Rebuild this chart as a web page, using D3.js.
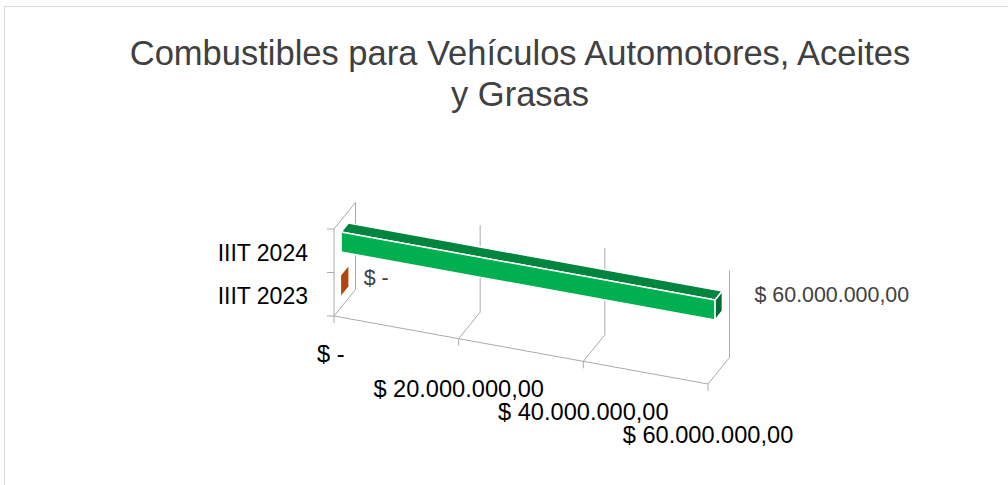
<!DOCTYPE html>
<meta charset="utf-8">
<head>
  <title>Combustibles para Vehículos Automotores, Aceites y Grasas</title>
</head>

<style>
body {
  margin: 0;
  background: #fff;
  font-family: "Liberation Sans", Arial, sans-serif;
}
</style>

<body>
<script src="https://cdn.jsdelivr.net/npm/d3@7"></script>

<script>

// chart data
var titleLines = ["Combustibles para Vehículos Automotores, Aceites", "y Grasas"];
var categories = ["IIIT 2023", "IIIT 2024"];
var values = [0, 60000000];
var tickValues = [0, 20000000, 40000000, 60000000];

var w = 1008, h = 485;

// colours for each series: front, top, end face
var faceColors = [
  {front: "#C55A11", top: "#9E480E", end: "#B0480C"},
  {front: "#00B050", top: "#00853E", end: "#006B33"}
];

var svg = d3.select("body")
  .append("svg")
  .attr("width", w)
  .attr("height", h);

// chart border (runs past the right / bottom of the window)
svg.append("rect")
  .attr("x", 4.5)
  .attr("y", 6.5)
  .attr("width", 1040)
  .attr("height", 500)
  .attr("fill", "#fff")
  .attr("stroke", "#D9D9D9");

// title
svg.append("g")
  .selectAll("text")
  .data(titleLines)
  .enter()
  .append("text")
  .attr("x", 520)
  .attr("y", function(d, i) { return 65 + i * 41; })
  .attr("text-anchor", "middle")
  .attr("font-size", 34.5)
  .attr("fill", "#404040")
  .text(function(d) { return d; });

// 3D box: value axis runs down to the right, depth goes up-right
var origin = [334, 316],
    H = 87,            // height of the category axis
    DX = 21.5, DY = 26.5, // depth vector
    slope = 68 / 374;

var x = d3.scaleLinear()
  .domain([0, d3.max(tickValues)])
  .range([0, 374]);

// bands on the vertical category axis (0 = floor, 1 = top)
var band = d3.scaleBand()
  .domain(categories)
  .range([0, 1])
  .paddingInner(0.54)
  .paddingOuter(0.27);

var d0 = 0.33, d1 = 0.67; // bar depth

function proj(v, c, d) {
  var px = x(v);
  return [origin[0] + px + d * DX, origin[1] + px * slope - c * H - d * DY];
}

var line = d3.line();
var gridColor = "#AAAAAA";

var grid = svg.append("g")
  .attr("fill", "none")
  .attr("stroke", gridColor)
  .attr("stroke-width", 1);

// gridlines on floor and back wall
grid.selectAll(".grid")
  .data(tickValues)
  .enter()
  .append("path")
  .attr("class", "grid")
  .attr("d", function(v) { return line([proj(v, 0, 0), proj(v, 0, 1), proj(v, 1, 1)]); });

// value axis line + ticks
grid.append("path")
  .attr("d", line([proj(0, 0, 0), proj(d3.max(tickValues), 0, 0)]));
grid.selectAll(".vtick")
  .data(tickValues)
  .enter()
  .append("path")
  .attr("class", "vtick")
  .attr("d", function(v) { var p = proj(v, 0, 0); return line([p, [p[0], p[1] + 7]]); });

// category axis (side wall front edge + top edge)
grid.append("path")
  .attr("d", line([proj(0, 0, 0), proj(0, 1, 0), proj(0, 1, 1)]));
grid.selectAll(".ctick")
  .data([0, 0.5, 1])
  .enter()
  .append("path")
  .attr("class", "ctick")
  .attr("d", function(c) { var p = proj(0, c, 0); return line([[p[0] - 7, p[1]], p]); });

// bars
var bars = svg.append("g");

categories.forEach(function(cat, i) {
  var v = values[i],
      c0 = band(cat),
      c1 = c0 + band.bandwidth(),
      col = faceColors[i];
  var faces = [];
  if (v > 0) {
    faces.push({pts: [proj(0, c1, d0), proj(v, c1, d0), proj(v, c1, d1), proj(0, c1, d1)], fill: col.top});
    faces.push({pts: [proj(0, c0, d0), proj(v, c0, d0), proj(v, c1, d0), proj(0, c1, d0)], fill: col.front});
  }
  faces.push({pts: [proj(v, c0, d0), proj(v, c0, d1), proj(v, c1, d1), proj(v, c1, d0)], fill: col.end});

  bars.selectAll(".f" + i)
    .data(faces)
    .enter()
    .append("path")
    .attr("class", "f" + i)
    .attr("d", function(f) { return line(f.pts) + "Z"; })
    .attr("fill", function(f) { return f.fill; })
    .attr("stroke", v > 0 ? "#fff" : "none")
    .attr("stroke-width", 1.5)
    .attr("stroke-linejoin", "round");
});

function money(v) {
  if (v === 0) return "$ -\u00a0";
  var s = d3.format(",.2f")(v); // 60,000,000.00
  s = s.replace(/,/g, "#").replace(".", ",").replace(/#/g, ".");
  return "$ " + s;
}

// category labels
svg.append("g")
  .selectAll("text")
  .data(categories)
  .enter()
  .append("text")
  .attr("x", 308)
  .attr("y", function(d) { return proj(0, band(d) + band.bandwidth() / 2, 0)[1] + 10; })
  .attr("text-anchor", "end")
  .attr("font-size", 23)
  .attr("fill", "#000")
  .text(function(d) { return d; });

// value tick labels, pushed down so the sloped axis clears them
svg.append("g")
  .selectAll("text")
  .data(tickValues)
  .enter()
  .append("text")
  .attr("x", function(v) { return proj(v, 0, 0)[0]; })
  .attr("text-anchor", "middle")
  .attr("font-size", 23.6)
  .attr("fill", "#000")
  .text(money)
  .attr("y", function(v) {
    var tw = this.getComputedTextLength();
    return proj(v, 0, 0)[1] + slope * tw / 2 + 43;
  });

// data labels
svg.append("g")
  .selectAll("text")
  .data(values)
  .enter()
  .append("text")
  .attr("font-size", 21.4)
  .attr("fill", "#404040")
  .text(function(v) { return v === 0 ? "$ -" : money(v); })
  .each(function(v, i) {
    var tw = this.getComputedTextLength(),
        cat = categories[i],
        p = proj(v, band(cat) + band.bandwidth() / 2, d1);
    d3.select(this)
      .attr("x", p[0] + 12 + 0.13 * tw)
      .attr("y", p[1] + 9.7 - 0.056 * tw);
  });

</script>
</body>
</html>
